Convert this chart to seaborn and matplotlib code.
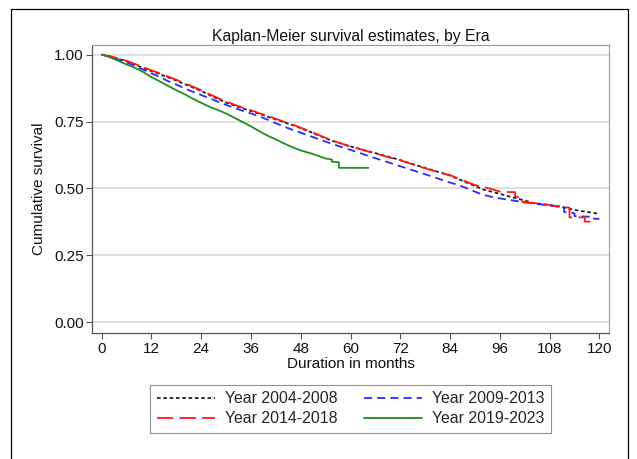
import matplotlib
matplotlib.use("Agg")
import matplotlib.pyplot as plt
from matplotlib.lines import Line2D
import numpy as np
import pandas as pd
import seaborn as sns

# Kaplan-Meier estimates per era (months, cumulative survival); repeated
# months mark the larger vertical drops of the step function
t_0408 = [0, 2, 4, 6, 8, 10, 12, 14, 16, 18, 20, 22, 24, 26, 28, 30, 32, 34, 36, 38,
          40, 42, 44, 46, 48, 50, 52, 54, 56, 58, 60, 62, 64, 66, 68, 70, 72, 74, 76, 78,
          80, 82, 84, 86, 88, 90, 92, 94, 96, 98, 100, 102, 104, 106, 108, 110, 112, 114,
          116, 118, 120]
s_0408 = [1.000, 0.993, 0.984, 0.975, 0.963, 0.950, 0.938, 0.927, 0.915, 0.903, 0.890,
          0.877, 0.864, 0.849, 0.834, 0.821, 0.810, 0.799, 0.789, 0.779, 0.768, 0.758,
          0.747, 0.737, 0.725, 0.713, 0.700, 0.687, 0.676, 0.667, 0.657, 0.649, 0.640,
          0.632, 0.623, 0.615, 0.606, 0.596, 0.586, 0.577, 0.567, 0.558, 0.548, 0.535,
          0.522, 0.509, 0.496, 0.488, 0.480, 0.471, 0.463, 0.455, 0.446, 0.442, 0.438,
          0.434, 0.427, 0.420, 0.415, 0.410, 0.405]

t_0913 = [0, 2, 4, 6, 8, 10, 12, 14, 16, 18, 20, 22, 24, 26, 28, 30, 32, 34, 36, 38,
          40, 42, 44, 46, 48, 50, 52, 54, 56, 58, 60, 62, 64, 66, 68, 70, 72, 74, 76, 78,
          80, 82, 84, 86, 88, 90, 92, 94, 96, 98, 100, 102, 104, 106, 108, 110, 111.5,
          111.5, 114, 114, 118, 118, 120]
s_0913 = [1.000, 0.992, 0.982, 0.971, 0.958, 0.944, 0.930, 0.916, 0.901, 0.888, 0.874,
          0.861, 0.849, 0.837, 0.824, 0.812, 0.801, 0.790, 0.780, 0.769, 0.757, 0.744,
          0.731, 0.719, 0.708, 0.697, 0.686, 0.675, 0.664, 0.654, 0.644, 0.634, 0.623,
          0.613, 0.603, 0.593, 0.583, 0.573, 0.563, 0.553, 0.543, 0.532, 0.522, 0.513,
          0.501, 0.488, 0.476, 0.469, 0.463, 0.458, 0.453, 0.448, 0.444, 0.440, 0.436,
          0.432, 0.430, 0.412, 0.408, 0.397, 0.394, 0.388, 0.386]

t_1418 = [0, 2, 4, 6, 8, 10, 12, 14, 16, 18, 20, 22, 24, 26, 28, 30, 32, 34, 36, 38,
          40, 42, 44, 46, 48, 50, 52, 54, 56, 58, 60, 62, 64, 66, 68, 70, 72, 74, 76, 78,
          80, 82, 84, 86, 88, 90, 92, 94, 96, 99.7, 99.7, 101.5, 101.5, 104, 106, 108,
          110, 112.8, 112.8, 116.5, 116.5, 119.4]
s_1418 = [1.000, 0.994, 0.986, 0.977, 0.965, 0.953, 0.941, 0.930, 0.918, 0.906, 0.893,
          0.880, 0.867, 0.852, 0.838, 0.825, 0.813, 0.802, 0.792, 0.781, 0.771, 0.760,
          0.749, 0.739, 0.727, 0.715, 0.702, 0.689, 0.677, 0.667, 0.656, 0.648, 0.639,
          0.631, 0.622, 0.613, 0.605, 0.595, 0.585, 0.575, 0.566, 0.557, 0.550, 0.537,
          0.525, 0.513, 0.505, 0.498, 0.488, 0.486, 0.470, 0.465, 0.449, 0.446, 0.443,
          0.438, 0.433, 0.428, 0.392, 0.392, 0.376, 0.376]

t_1923 = [0, 2, 4, 6, 8, 10, 12, 14, 16, 18, 20, 22, 24, 26, 28, 30, 32, 34, 36, 38,
          40, 42, 44, 46, 48, 50, 52, 54, 55.5, 55.5, 57.2, 57.2, 64.3]
s_1923 = [1.000, 0.990, 0.977, 0.963, 0.951, 0.935, 0.916, 0.900, 0.883, 0.867, 0.852,
          0.835, 0.820, 0.805, 0.793, 0.780, 0.764, 0.748, 0.732, 0.714, 0.697, 0.683,
          0.668, 0.654, 0.642, 0.633, 0.623, 0.612, 0.608, 0.600, 0.598, 0.577, 0.577]

era_labels = ["Year 2004-2008", "Year 2009-2013", "Year 2014-2018", "Year 2019-2023"]
x_ticks = [0, 12, 24, 36, 48, 60, 72, 84, 96, 108, 120]
y_ticks = [0.00, 0.25, 0.50, 0.75, 1.00]

series = [
    (era_labels[0], t_0408, s_0408, "#222222", (0, (2.0, 1.5))),
    (era_labels[1], t_0913, s_0913, "#2b2bff", (0, (4.5, 2.8))),
    (era_labels[2], t_1418, s_1418, "#ff1a1a", (0, (9.0, 3.5))),
    (era_labels[3], t_1923, s_1923, "#1f8f1f", "-"),
]

sns.set_theme(style="white")
plt.rcParams["font.family"] = ["Liberation Sans", "DejaVu Sans"]

fig = plt.figure(figsize=(6.37, 4.59), dpi=100)
fig.patch.set_facecolor("white")
ax = fig.add_axes([0.1449, 0.2739, 0.9565 - 0.1449, 0.9026 - 0.2739])

handles = {}
for name, t, s, col, ls in series:
    df = pd.DataFrame({"month": t, "surv": s})
    sns.lineplot(data=df, x="month", y="surv", ax=ax, color=col, linestyle=ls,
                 linewidth=1.3, estimator=None, sort=False, legend=False)
    handles[name] = Line2D([], [], color=col, linestyle=ls, linewidth=1.3)

ax.set_xlim(-2.27, 122.4)
ax.set_ylim(-0.041, 1.037)
ax.set_xticks(x_ticks)
ax.set_xticklabels([str(v) for v in x_ticks])
ax.set_yticks(y_ticks)
ax.set_yticklabels([f"{v:.2f}" for v in y_ticks])
ax.yaxis.grid(True, color="#dcdcdc", linewidth=1.2)
ax.xaxis.grid(False)
ax.set_axisbelow(True)

for side in ["left", "bottom"]:
    ax.spines[side].set_color("#555555")
    ax.spines[side].set_linewidth(0.9)
for side in ["top", "right"]:
    ax.spines[side].set_color("#a0a0a0")
    ax.spines[side].set_linewidth(0.9)

ax.tick_params(axis="both", which="major", direction="out", length=4, width=0.8,
               color="#555555", labelsize=11, labelcolor="#111111", pad=2,
               bottom=True, left=True)

ax.set_title("Kaplan-Meier survival estimates, by Era", fontsize=11.3, color="#111111", pad=3)
ax.set_xlabel("Duration in months", fontsize=11, color="#111111", labelpad=1)
ax.set_ylabel("Cumulative survival", fontsize=11, color="#111111", labelpad=6)

order = [era_labels[0], era_labels[2], era_labels[1], era_labels[3]]
leg = fig.legend([handles[k] for k in order], order, ncol=2, loc="center",
                 bbox_to_anchor=((149 + 552) / 2 / 637, 1 - 408.7 / 459),
                 fontsize=11.4, frameon=True, fancybox=False, framealpha=1,
                 edgecolor="#909090", handlelength=3.67, handletextpad=0.63,
                 columnspacing=1.69, labelspacing=0.3, borderpad=0.42)
leg.get_frame().set_linewidth(0.8)

# outer frame around the graph region
fw, fh = 637, 459
for xs, ys in [((10.5, 10.5), (-5, 8.5)), ((10.5, 628), (8.5, 8.5)), ((628, 628), (8.5, -5))]:
    fig.add_artist(Line2D([x / fw for x in xs], [1 - y / fh if y >= 0 else -0.02 for y in ys],
                          color="black", linewidth=0.9, transform=fig.transFigure))

fig.savefig("out.png", dpi=100)
